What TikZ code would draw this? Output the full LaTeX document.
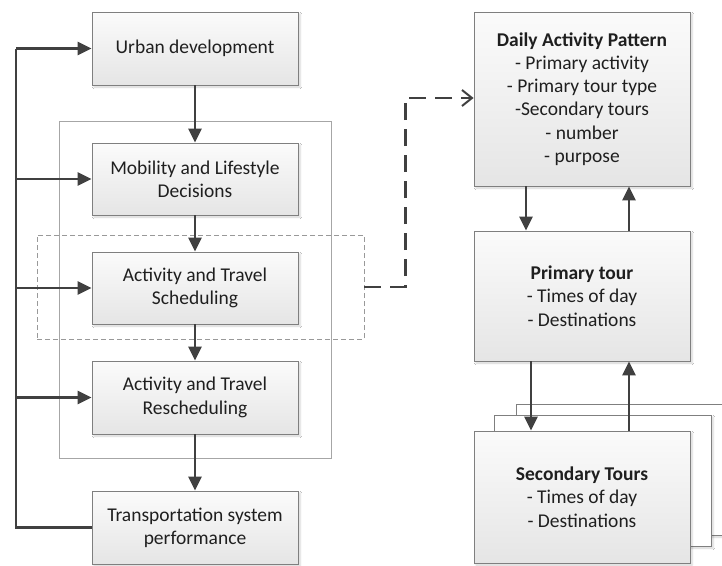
\documentclass[tikz,border=0pt]{standalone}
\usepackage{fontspec}
\setmainfont{Carlito}
\usetikzlibrary{arrows.meta,shadows,shadows.blur,calc}
\definecolor{edge}{HTML}{7F7F7F}
\definecolor{ink}{HTML}{1F1F1F}
\definecolor{wire}{HTML}{404040}
\definecolor{boxtop}{HTML}{FBFBFB}
\definecolor{boxbot}{HTML}{E5E5E5}
\tikzset{
  box/.style={draw=edge, line width=0.8pt, top color=boxtop, bottom color=boxbot,
    text=ink, align=center, inner sep=2pt,
    font=\fontsize{19.5}{23.3}\selectfont,
    blur shadow={shadow xshift=2pt, shadow yshift=-2pt, shadow blur steps=4, shadow opacity=18}},
  sheet/.style={draw=edge, line width=0.8pt, fill=white,
    blur shadow={shadow xshift=2pt, shadow yshift=-2pt, shadow blur steps=4, shadow opacity=18}},
  conn/.style={line width=2.6pt, draw=wire, -{Triangle[length=14pt,width=13pt]}},
  plain/.style={line width=2.6pt, draw=wire},
  frame/.style={draw=gray!70, line width=0.8pt},
  selbox/.style={draw=gray!80, line width=0.8pt, dash pattern=on 5pt off 3pt},
  link/.style={line width=2.4pt, draw=wire, dash pattern=on 17pt off 9pt,
    -{Straight Barb[length=10pt,width=16pt,line width=2pt]}}
}
\begin{document}
\begin{tikzpicture}[x=1pt,y=-1pt]
\clip (0,0) rectangle (722,565);
\fill[white] (0,0) rectangle (722,565);

% grouping frames
\node[frame, minimum width=272pt, minimum height=337pt] (group) at (195,289.5) {};
\node[selbox, minimum width=327pt, minimum height=104pt] (sel) at (200.5,287) {};

% left column
\node[box, minimum width=206pt, minimum height=73pt] (urban) at (195,48.5) {Urban development};
\node[box, minimum width=206pt, minimum height=72pt] (mob) at (195,179) {Mobility and Lifestyle\\Decisions};
\node[box, minimum width=206pt, minimum height=72pt] (sched) at (195,288) {Activity and Travel\\Scheduling};
\node[box, minimum width=206pt, minimum height=73pt] (resched) at (195,397.5) {Activity and Travel\\Rescheduling};
\node[box, minimum width=206pt, minimum height=73pt] (perf) at (195,527.5) {Transportation system\\performance};

\draw[conn] (urban) -- (mob);
\draw[conn] (mob) -- (sched);
\draw[conn] (sched) -- (resched);
\draw[conn] (resched) -- (perf);

% feedback from performance
\coordinate (spine) at (16,0);
\draw[plain] (perf.west) -- (perf.west -| spine) -- (urban.west -| spine);
\draw[conn] (urban.west -| spine) -- (urban.west);
\draw[conn] (mob.west -| spine) -- (mob.west);
\draw[conn] (sched.west -| spine) -- (sched.west);
\draw[conn] (resched.west -| spine) -- (resched.west);

% right column
\node[sheet, minimum width=217pt, minimum height=131pt] (back2) at (624.5,469.5) {};
\node[sheet, minimum width=217pt, minimum height=131pt] (back1) at (602.5,480.5) {};
\node[box, minimum width=216pt, minimum height=132pt] (sec) at (582,497)
  {\textbf{Secondary Tours}\\- Times of day\\- Destinations};
\node[box, minimum width=216pt, minimum height=174pt] (daily) at (582,99)
  {\textbf{Daily Activity Pattern}\\- Primary activity\\- Primary tour type\\-Secondary tours\\- number\\- purpose};
\node[box, minimum width=216pt, minimum height=130pt] (prim) at (582,296)
  {\textbf{Primary tour}\\- Times of day\\- Destinations};

\draw[conn] ([xshift=-56pt]daily.south) -- ([xshift=-56pt]prim.north);
\draw[conn] ([xshift=47pt]prim.north) -- ([xshift=47pt]daily.south);
\draw[conn] ([xshift=-51pt]prim.south) -- ([xshift=-51pt]sec.north);
\draw[conn] ([xshift=47pt]sec.north) -- ([xshift=47pt]prim.south);

% detail link
\draw[link] (sel.east) -- ++(41,0) |- ([yshift=1pt]daily.west);
\end{tikzpicture}
\end{document}
